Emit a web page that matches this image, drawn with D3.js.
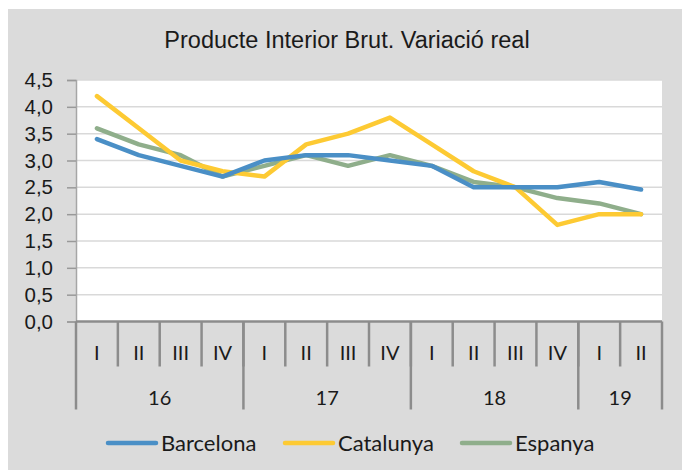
<!DOCTYPE html>
<html>
<head>
<meta charset="utf-8">
<script src="https://cdn.jsdelivr.net/npm/d3@7"></script>
<style>
  body { margin: 0; background: #fff; }
  svg text { fill: #1a1a1a; }
</style>
</head>
<body>
<div id="chart"></div>
<script>
// data
var quarters = ["I", "II", "III", "IV", "I", "II", "III", "IV", "I", "II", "III", "IV", "I", "II"];
var years = ["16", "17", "18", "19"];
var yearSpans = [4, 4, 4, 2]; // quarters per year
var barcelona = [3.4, 3.1, 2.9, 2.7, 3.0, 3.1, 3.1, 3.0, 2.9, 2.5, 2.5, 2.5, 2.6, 2.46];
var catalunya = [4.2, 3.6, 3.0, 2.8, 2.7, 3.3, 3.5, 3.8, 3.3, 2.8, 2.5, 1.8, 2.0, 2.0];
var espanya   = [3.6, 3.3, 3.1, 2.7, 2.9, 3.1, 2.9, 3.1, 2.9, 2.6, 2.5, 2.3, 2.2, 2.0];
var seriesNames = ["Barcelona", "Catalunya", "Espanya"];
var seriesColors = ["#4a8fc6", "#fdca33", "#8fae8b"];
var yTicks = [0, 0.5, 1, 1.5, 2, 2.5, 3, 3.5, 4, 4.5];

var width = 682, height = 470;
var margin = {top: 80, right: 20, bottom: 149, left: 76};
var plotW = 662 - margin.left, plotH = 321.5 - margin.top;

var svg = d3.select("#chart").append("svg")
  .attr("width", width)
  .attr("height", height);

// chart background
svg.append("rect")
  .attr("x", 8).attr("y", 9)
  .attr("width", width - 8).attr("height", height - 9)
  .attr("fill", "#dbdbdb");

svg.append("text")
  .attr("x", 347).attr("y", 48)
  .attr("text-anchor", "middle")
  .style("font-family", "'Liberation Sans', Arial, sans-serif")
  .style("font-size", "23.5px")
  .text("Producte Interior Brut. Variació real");

var plot = svg.append("g")
  .attr("transform", "translate(" + margin.left + "," + margin.top + ")");

plot.append("rect")
  .attr("width", plotW).attr("height", plotH)
  .attr("fill", "#fff");

var x = d3.scaleBand()
  .domain(d3.range(quarters.length))
  .range([0, plotW]);

var y = d3.scaleLinear()
  .domain([0, 4.5])
  .range([plotH, 0]);

// gridlines
plot.append("g")
  .selectAll("line")
  .data(yTicks.slice(1))
  .join("line")
  .attr("x1", 0).attr("x2", plotW)
  .attr("y1", d => y(d)).attr("y2", d => y(d))
  .attr("stroke", "#d9d9d9")
  .attr("stroke-width", 1.5);

// y axis
var yAxis = d3.axisLeft(y)
  .tickValues(yTicks)
  .tickSize(9)
  .tickPadding(14)
  .tickFormat(d => d3.format(".1f")(d).replace(".", ","));

var yg = plot.append("g").call(yAxis);
yg.select(".domain").attr("stroke", "#a6a6a6").attr("stroke-width", 1.5);
yg.selectAll(".tick line").attr("stroke", "#999").attr("stroke-width", 1.5);
yg.selectAll(".tick text")
  .style("font-family", "'Liberation Sans', Arial, sans-serif")
  .style("font-size", "20.5px")
  .attr("fill", "#1a1a1a");

// x axis: quarter ticks and year separators
var xg = plot.append("g").attr("transform", "translate(0," + plotH + ")");

xg.selectAll(".qtick")
  .data(d3.range(1, quarters.length))
  .join("line")
  .attr("class", "qtick")
  .attr("x1", d => x(d)).attr("x2", d => x(d))
  .attr("y1", 0).attr("y2", 45)
  .attr("stroke", "#8c8c8c")
  .attr("stroke-width", 2.5);

var bounds = [0];
yearSpans.forEach((s, i) => bounds.push(bounds[i] + s));

xg.selectAll(".ytick")
  .data(bounds)
  .join("line")
  .attr("class", "ytick")
  .attr("x1", d => d < quarters.length ? x(d) : plotW)
  .attr("x2", d => d < quarters.length ? x(d) : plotW)
  .attr("y1", 0).attr("y2", 88)
  .attr("stroke", "#8c8c8c")
  .attr("stroke-width", 2.5);

xg.append("line")
  .attr("x1", 0).attr("x2", plotW)
  .attr("stroke", "#8c8c8c")
  .attr("stroke-width", 2.5);

xg.selectAll(".qlabel")
  .data(quarters)
  .join("text")
  .attr("class", "qlabel")
  .attr("x", (d, i) => x(i) + x.bandwidth() / 2)
  .attr("y", 38)
  .attr("text-anchor", "middle")
  .style("font-family", "Lato, 'Open Sans', sans-serif")
  .style("font-size", "20px")
  .text(d => d);

xg.selectAll(".ylabel")
  .data(years)
  .join("text")
  .attr("class", "ylabel")
  .attr("x", (d, i) => {
    var a = x(bounds[i]);
    var b = bounds[i + 1] < quarters.length ? x(bounds[i + 1]) : plotW;
    return (a + b) / 2;
  })
  .attr("y", 83)
  .attr("text-anchor", "middle")
  .style("font-family", "Lato, 'Open Sans', sans-serif")
  .style("font-size", "20px")
  .text(d => d);

// lines
var line = d3.line()
  .x((d, i) => x(i) + x.bandwidth() / 2)
  .y(d => y(d));

var allSeries = [barcelona, catalunya, espanya];

plot.selectAll(".series")
  .data([espanya, catalunya, barcelona].map(s => allSeries.indexOf(s)))
  .join("path")
  .attr("class", "series")
  .attr("d", i => line(allSeries[i]))
  .attr("fill", "none")
  .attr("stroke", i => seriesColors[i])
  .attr("stroke-width", 4.5)
  .attr("stroke-linejoin", "round")
  .attr("stroke-linecap", "round");

// legend
var legendX = [108, 285, 462];
var legend = svg.append("g");
seriesNames.forEach((name, i) => {
  legend.append("line")
    .attr("x1", legendX[i]).attr("x2", legendX[i] + 48)
    .attr("y1", 443).attr("y2", 443)
    .attr("stroke", seriesColors[i])
    .attr("stroke-width", 4.5)
    .attr("stroke-linecap", "round");
  legend.append("text")
    .attr("x", legendX[i] + 53)
    .attr("y", 451)
    .style("font-family", "Lato, 'Open Sans', sans-serif")
    .style("font-size", "22px")
    .text(name);
});
</script>
</body>
</html>
